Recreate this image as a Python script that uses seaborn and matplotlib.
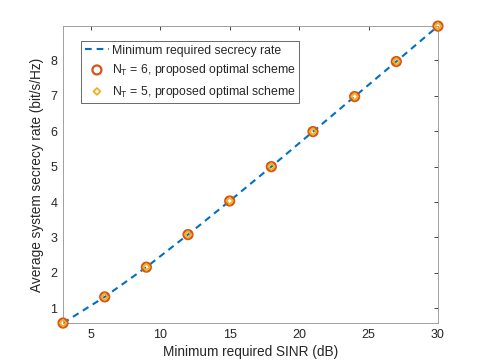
import matplotlib
matplotlib.use("Agg")
import matplotlib.pyplot as plt
import seaborn as sns
import pandas as pd

sinr_db = [3, 6, 9, 12, 15, 18, 21, 24, 27, 30]
min_rate = [0.58, 1.32, 2.16, 3.08, 4.03, 5.00, 5.99, 6.98, 7.97, 8.97]
nt6_rate = [0.58, 1.32, 2.16, 3.08, 4.03, 5.00, 5.99, 6.98, 7.97, 8.97]
nt5_rate = [0.58, 1.32, 2.16, 3.08, 4.03, 5.00, 5.99, 6.98, 7.97, 8.97]
x_ticks = [5, 10, 15, 20, 25, 30]
y_ticks = [1, 2, 3, 4, 5, 6, 7, 8]

sns.set_style("white")
plt.rcParams['font.family'] = ['Liberation Sans', 'DejaVu Sans']
plt.rcParams['mathtext.fontset'] = 'custom'
plt.rcParams['mathtext.rm'] = 'Liberation Sans'
plt.rcParams['mathtext.it'] = 'Liberation Sans'

df = pd.DataFrame({"sinr": sinr_db, "min": min_rate, "nt6": nt6_rate, "nt5": nt5_rate})

fig = plt.figure(figsize=(4.85, 3.63), dpi=100)
ax = fig.add_axes([0.130, 0.110, 0.773, 0.818])

sns.lineplot(data=df, x="sinr", y="min", ax=ax, color="#0072BD", linestyle=(0, (3.2, 2.4)),
             linewidth=1.5, label="Minimum required secrecy rate")
sns.scatterplot(data=df, x="sinr", y="nt6", ax=ax, marker="o", s=42, facecolor="none",
                edgecolor="#D95319", linewidth=1.6, label="N$_\\mathrm{T}$ = 6, proposed optimal scheme",
                clip_on=False, zorder=3)
sns.scatterplot(data=df, x="sinr", y="nt5", ax=ax, marker="D", s=12, facecolor="none",
                edgecolor="#EDB120", linewidth=1.3, label="N$_\\mathrm{T}$ = 5, proposed optimal scheme",
                clip_on=False, zorder=4)

ax.set_xlim(3, 30)
ax.set_ylim(0.58, 8.97)
ax.set_xticks(x_ticks)
ax.set_yticks(y_ticks)
ax.tick_params(direction="in", length=3, width=0.6, colors="#262626", labelsize=9,
               top=True, right=True, labeltop=False, labelright=False, pad=4)
for s in ax.spines.values():
    s.set_color("#a0a0a0")
    s.set_linewidth(0.7)
ax.set_xlabel("Minimum required SINR (dB)", fontsize=9.8, color="#262626", labelpad=3)
ax.set_ylabel("Average system secrecy rate (bit/s/Hz)", fontsize=9.8, color="#262626", labelpad=5)

leg = ax.legend(loc="upper left", bbox_to_anchor=(0.048, 0.95), fontsize=8.8, frameon=True,
                fancybox=False, edgecolor="#262626", handlelength=2.0, handletextpad=0.2,
                borderpad=0.3, labelspacing=0.45, borderaxespad=0)
leg.get_frame().set_linewidth(0.6)

fig.savefig("out.png", dpi=100)
